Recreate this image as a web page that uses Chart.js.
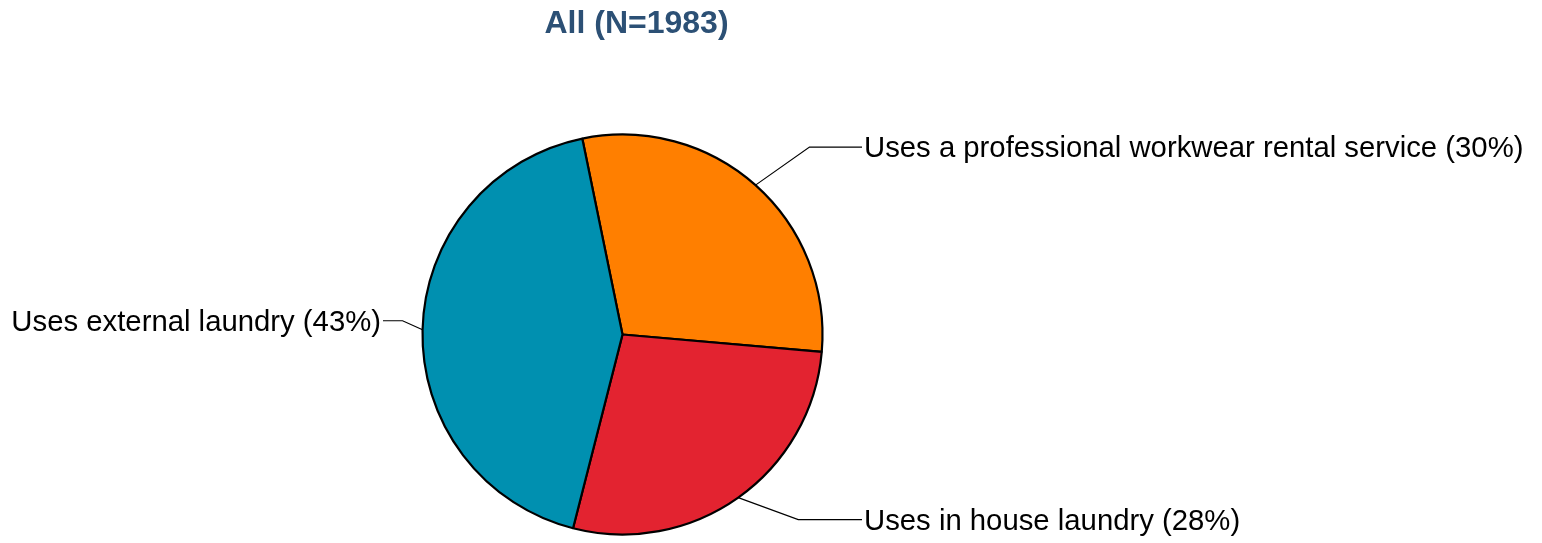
<!DOCTYPE html>
<html>
<head>
<meta charset="utf-8">
<script src="https://cdn.jsdelivr.net/npm/chart.js@4/dist/chart.umd.min.js"></script>
<style>
  html, body { margin: 0; padding: 0; background: #fff; }
  #wrap { width: 1542px; height: 543px; }
</style>
</head>
<body>
<div id="wrap"><canvas id="pie-chart" width="1542" height="543"></canvas></div>
<script>
// ===== data =====
const TITLE = 'All (N=1983)';
const labels = [
  'Uses a professional workwear rental service',
  'Uses in house laundry',
  'Uses external laundry',
];
const shares = [29.6, 27.6, 42.8];
const shareLabels = ['30%', '28%', '43%'];
const colors = ['#FF7F00', '#E32330', '#0090B0'];

// leader line elbow offsets from the slice anchor (style only)
const ELBOWS = [[54, -38], [60, 22], [-20, -9]];
const LABEL_FONT = "29.3px 'Liberation Sans', Arial, sans-serif";

const leaderLabels = {
  id: 'leaderLabels',
  afterDraw(chart) {
    const { ctx } = chart;
    const arcs = chart.getDatasetMeta(0).data;
    ctx.save();

    // title
    ctx.font = "bold 32px 'Liberation Sans', Arial, sans-serif";
    ctx.fillStyle = '#2C5075';
    ctx.textAlign = 'center';
    ctx.textBaseline = 'alphabetic';
    ctx.fillText(TITLE, 636.5, 33);

    ctx.font = LABEL_FONT;
    ctx.strokeStyle = '#000';
    ctx.lineWidth = 1.2;
    arcs.forEach((arc, i) => {
      const { x, y, startAngle, endAngle, outerRadius } = arc.getProps(['x', 'y', 'startAngle', 'endAngle', 'outerRadius'], true);
      const mid = (startAngle + endAngle) / 2;
      const ax = x + Math.cos(mid) * outerRadius;
      const ay = y + Math.sin(mid) * outerRadius;
      const ex = ax + ELBOWS[i][0];
      const ey = ay + ELBOWS[i][1];
      const right = Math.cos(mid) >= 0;
      const hx = right ? 862 : 383;

      ctx.beginPath();
      ctx.moveTo(ax, ay);
      ctx.lineTo(ex, ey);
      ctx.lineTo(hx, ey);
      ctx.stroke();

      ctx.fillStyle = '#000';
      ctx.textAlign = right ? 'left' : 'right';
      ctx.fillText(`${labels[i]} (${shareLabels[i]})`, right ? hx + 2 : hx - 2, ey + 10);
    });
    ctx.restore();
  }
};

const ctx = document.getElementById('pie-chart').getContext('2d');
new Chart(ctx, {
  type: 'pie',
  data: {
    labels,
    datasets: [{
      data: shares,
      backgroundColor: colors,
      borderColor: '#000',
      borderWidth: 2.2,
      radius: 200,
    }]
  },
  options: {
    responsive: false,
    animation: false,
    rotation: -11.6,
    layout: { padding: { left: 415.5, right: 712.5, top: 127.5, bottom: 1.5 } },
    plugins: {
      legend: { display: false },
      tooltip: { enabled: false },
      title: { display: false },
    }
  },
  plugins: [leaderLabels]
});
</script>
</body>
</html>
